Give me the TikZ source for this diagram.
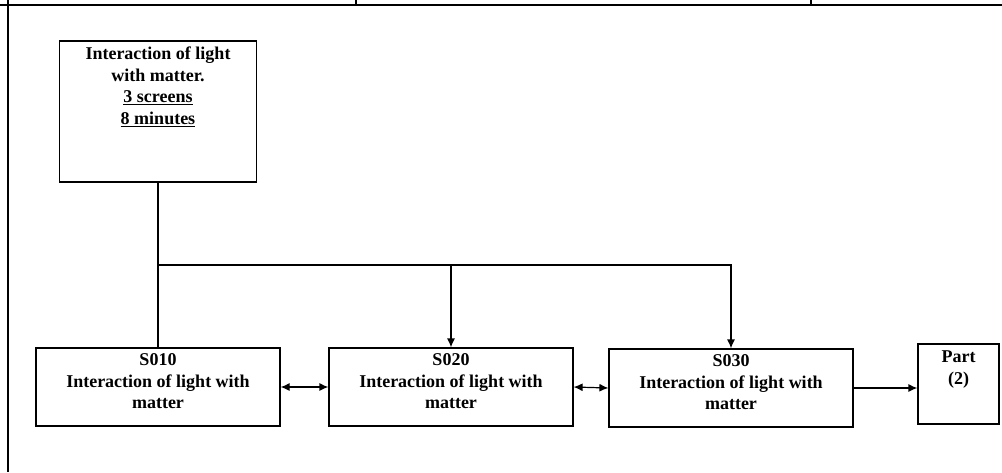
\documentclass[tikz,border=0pt]{standalone}
\usepackage{fontspec}
\setmainfont{Liberation Serif}
\usetikzlibrary{positioning,arrows.meta}
\tikzset{
    BX/.style ={rectangle, draw, inner sep=0pt},
    BX1/.style ={BX, minimum width=244pt, minimum height=78pt},
    TX/.style ={align=center, inner sep=0pt, font=\fontsize{18}{21.5}\selectfont\bfseries},
    AR1/.style ={-{Latex[length=9pt,width=8pt]}},
    AR2/.style ={{Latex[length=9pt,width=8pt]}-{Latex[length=9pt,width=8pt]}}}

\begin{document}
\begin{tikzpicture}[x=1pt,y=-1pt,line width=1.2pt]
        \useasboundingbox (0,0) rectangle (1002,472);
        % frame
        \draw (0,5) -- (1002,5);
        \draw (8,0) -- (8,472);
        \draw (356,0) -- (356,5);
        \draw (811,0) -- (811,5);
        % boxes
        \node[BX, minimum width=197pt, minimum height=141pt] (intro) at (158,111.5) {};
        \node[BX1] (s010) at (158,387) {};
        \node[BX1] (s020) at (451,387) {};
        \node[BX1] (s030) at (731,388) {};
        \node[BX, minimum width=81pt, minimum height=80pt] (part) at (958.5,384) {};
        % texts
        \node[TX, below=6pt of intro.north] (introtxt) {Interaction of light\\with matter.\\\underline{3 screens}\\\underline{8 minutes}};
        \node[TX, below=6pt of s010.north] (s010txt) {S010\\Interaction of light with\\matter};
        \node[TX, below=6pt of s020.north] (s020txt) {S020\\Interaction of light with\\matter};
        \node[TX, below=6pt of s030.north] (s030txt) {S030\\Interaction of light with\\matter};
        \node[TX, below=7pt of part.north] (parttxt) {Part\\(2)};
        % connectors
        \coordinate (bus) at (158,265);
        \draw (intro.south) -- (s010.north);
        \draw[AR1] (bus) -| (s020.north);
        \draw[AR1] (bus) -| (s030.north);
        \draw[AR2] (s010.east) -- (s020.west);
        \draw[AR2] (s020.east) -- (s030.west);
        \draw[AR1] (s030.east) -- (s030.east -| part.west);
\end{tikzpicture}
\end{document}
